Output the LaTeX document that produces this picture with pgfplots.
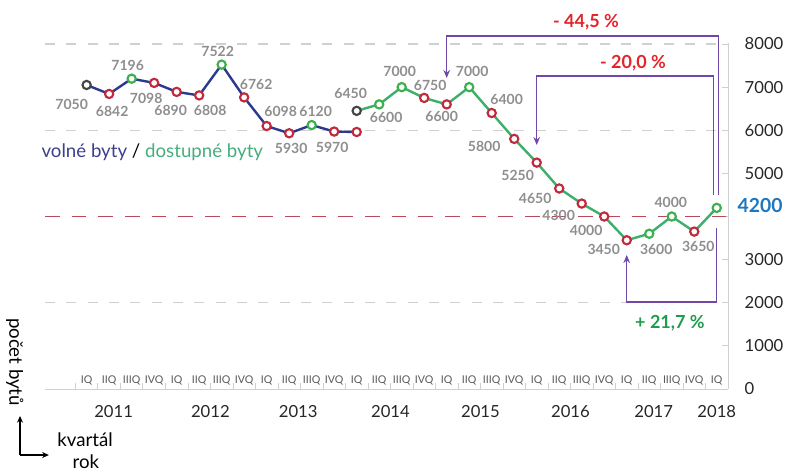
\documentclass[border=0pt]{standalone}
\usepackage{fontspec}
\setmainfont{Lato}
\usepackage{pgfplots}
\usepackage{pgfplotstable}
\pgfplotsset{compat=1.18}
\usetikzlibrary{arrows.meta}
\definecolor{navy}{HTML}{2B3A8E}
\definecolor{lgreen}{HTML}{3DAE6B}
\definecolor{mred}{HTML}{C12A3C}
\definecolor{mgreen}{HTML}{3DB04E}
\definecolor{mblack}{HTML}{454545}
\definecolor{lblgray}{HTML}{8E8E8E}
\definecolor{purp}{HTML}{7048A8}
\definecolor{pred}{HTML}{E2252B}
\definecolor{pgreen}{HTML}{1E9C4C}
\definecolor{vblue}{HTML}{1D77C0}
\definecolor{gridg}{HTML}{D0D0D0}
\definecolor{dashred}{HTML}{B8485A}
\definecolor{txtblue}{HTML}{3B3F8F}
\definecolor{txtgreen}{HTML}{45AE7C}

\pgfplotstableread{
x y
0 7050
1 6842
2 7196
3 7098
4 6890
5 6808
6 7522
7 6762
8 6098
9 5930
10 6120
11 5970
12 5960
}\bluedata
\pgfplotstableread{
x y
12 6450
13 6600
14 7000
15 6750
16 6600
17 7000
18 6400
19 5800
20 5250
21 4650
22 4300
23 4000
24 3450
25 3600
26 4000
27 3650
28 4200
}\greendata

\newcommand{\lab}[4]{\node[font=\bfseries\fontsize{10.5}{12}\selectfont, text=lblgray, inner sep=0pt] at (axis cs:#1,#2) [xshift=#3pt, yshift=#4pt] {#2};}
\newcommand{\yr}[2]{\node[font=\fontsize{12.5}{14}\selectfont, text=black!85] at (axis cs:#1,0) [yshift=-17.25pt] {#2};}

\begin{document}
\begin{tikzpicture}
\path[use as bounding box] (-33.75pt,-61.5pt) rectangle (556.5pt,291.75pt);
\begin{axis}[
  at={(0,0)}, anchor=south west,
  scale only axis,
  width=512.25pt, height=258.75pt,
  xmin=-1.85, xmax=28.5, ymin=0, ymax=8000,
  clip=false,
  axis x line*=bottom, axis y line*=right,
  axis line style={draw=gridg, line width=0.6pt},
  every tick/.style={draw=gridg, line width=0.6pt},
  tick align=inside, major tick length=4.5pt,
  xtick={-0.5,0.5,...,28.5}, xticklabels={},
  extra x ticks={0,...,28},
  extra x tick labels={IQ,IIQ,IIIQ,IVQ,IQ,IIQ,IIIQ,IVQ,IQ,IIQ,IIIQ,IVQ,IQ,IIQ,IIIQ,IVQ,IQ,IIQ,IIIQ,IVQ,IQ,IIQ,IIIQ,IVQ,IQ,IIQ,IIIQ,IVQ,IQ},
  extra x tick style={major tick length=0pt, tick label style={anchor=south, yshift=2.5pt, inner sep=0pt, font=\fontsize{8}{9}\selectfont, text=black!65}},
  ytick={0,1000,2000,3000,4000,5000,6000,7000,8000},
  yticklabels={0,1000,2000,3000,,5000,6000,7000,8000},
  yticklabel pos=right,
  yticklabel style={anchor=west, xshift=9pt, font=\fontsize{12.5}{14}\selectfont, text=black!85},
]
% grid lines
\draw[gridg, line width=0.8pt, dash pattern=on 7.5pt off 8.5pt] (axis cs:-1.85,8000) -- (axis cs:28.5,8000);
\draw[gridg, line width=0.8pt, dash pattern=on 7.5pt off 8.5pt] (axis cs:-1.85,6000) -- (axis cs:28.5,6000);
\draw[gridg, line width=0.8pt, dash pattern=on 7.5pt off 8.5pt] (axis cs:-1.85,2000) -- (axis cs:28.5,2000);
\draw[dashred, line width=0.8pt, dash pattern=on 11pt off 9pt] (axis cs:-1.85,4000) -- (axis cs:28.5,4000);

% lines
\addplot[navy, line width=1.8pt, no markers] table[x=x,y=y] {\bluedata};
\addplot[lgreen, line width=1.8pt, no markers] table[x=x,y=y] {\greendata};

% markers
\addplot[only marks, mark=*, mark size=3.1pt, mark options={draw=mred, fill=white, line width=1.6pt}] coordinates {
(1,6842) (3,7098) (4,6890) (5,6808) (7,6762) (8,6098) (9,5930) (11,5970) (12,5960)
(15,6750) (16,6600) (18,6400) (19,5800) (20,5250) (21,4650) (22,4300) (23,4000) (24,3450) (27,3650)};
\addplot[only marks, mark=*, mark size=3.1pt, mark options={draw=mgreen, fill=white, line width=1.6pt}] coordinates {
(2,7196) (6,7522) (10,6120) (13,6600) (14,7000) (17,7000) (25,3600) (26,4000) (28,4200)};
\addplot[only marks, mark=*, mark size=3.1pt, mark options={draw=mblack, fill=white, line width=1.6pt}] coordinates {
(0,7050) (12,6450)};

% value labels
\lab{0}{7050}{-11.25}{-14.25}
\lab{1}{6842}{2.25}{-12.75}
\lab{2}{7196}{-3}{9.75}
\lab{3}{7098}{-6}{-12}
\lab{4}{6890}{-4.5}{-14.25}
\lab{5}{6808}{8.25}{-11.25}
\lab{6}{7522}{-3}{9.75}
\lab{7}{6762}{9}{9.75}
\lab{8}{6098}{10.5}{11.25}
\lab{9}{5930}{1.5}{-11.25}
\lab{10}{6120}{3}{10.5}
\lab{11}{5970}{-1.5}{-12}
\lab{12}{6450}{-4.5}{12.75}
\lab{13}{6600}{5.25}{-9.75}
\lab{14}{7000}{-1.5}{12}
\lab{15}{6750}{4.5}{9}
\lab{16}{6600}{-3.75}{-9}
\lab{17}{7000}{2.25}{12}
\lab{18}{6400}{11.25}{10.5}
\lab{19}{5800}{-22.5}{-6}
\lab{20}{5250}{-14.25}{-9.75}
\lab{21}{4650}{-18}{-7.5}
\lab{22}{4300}{-17.25}{-9}
\lab{23}{4000}{-13.5}{-10.5}
\lab{24}{3450}{-17.25}{-6.75}
\lab{25}{3600}{5.25}{-12}
\lab{26}{4000}{-0.75}{10.5}
\lab{27}{3650}{3}{-11.25}

% 4200 label
\node[anchor=west, inner sep=0pt, font=\bfseries\fontsize{14.5}{16}\selectfont, text=vblue] at (axis cs:28.5,4250) [xshift=7pt] {4200};

% brackets
\draw[purp, line width=0.9pt, -{Stealth[length=6pt,width=5pt]}] (axis cs:28.06,4499) -- (axis cs:28.06,8185) -- (axis cs:16,8185) -- (axis cs:16,7212);
\draw[purp, line width=0.9pt, -{Stealth[length=6pt,width=5pt]}] (axis cs:27.84,4499) -- (axis cs:27.84,7258) -- (axis cs:20,7258) -- (axis cs:20,5658);
\draw[purp, line width=0.9pt, -{Stealth[length=6pt,width=5pt]}] (axis cs:28,3733) -- (axis cs:28,2017) -- (axis cs:24,2017) -- (axis cs:24,3107);

\node[font=\bfseries\fontsize{13.5}{15}\selectfont, text=pred] at (axis cs:22.19,8511) {- 44,5 \%};
\node[font=\bfseries\fontsize{13.5}{15}\selectfont, text=pred] at (axis cs:24.28,7560) {- 20,0 \%};
\node[font=\bfseries\fontsize{13.5}{15}\selectfont, text=pgreen] at (axis cs:25.92,1531) {+ 21,7 \%};

% legend text
\node[font=\fontsize{14}{16}\selectfont] at (axis cs:2.92,5496) {\textcolor{txtblue}{volné byty} / \textcolor{txtgreen}{dostupné byty}};

% years
\yr{1.2}{2011}
\yr{5.5}{2012}
\yr{9.4}{2013}
\yr{13.5}{2014}
\yr{17.5}{2015}
\yr{21.5}{2016}
\yr{25.2}{2017}
\yr{28}{2018}

% axis legend corner
\node[rotate=-90, font=\fontsize{14}{16}\selectfont] at (axis cs:-3.19,626) {počet bytů};
\draw[black, line width=0.8pt, -{Stealth[length=5pt,width=4.5pt]}] (axis cs:-2.96,-1531) -- (axis cs:-2.96,-626);
\draw[black, line width=0.8pt, -{Stealth[length=5pt,width=4.5pt]}] (axis cs:-2.96,-1531) -- (axis cs:-1.68,-1531);
\node[font=\fontsize{14}{16}\selectfont] at (axis cs:-0.07,-1183) {kvartál};
\node[font=\fontsize{14}{16}\selectfont] at (axis cs:-0.03,-1693) {rok};
\end{axis}
\end{tikzpicture}
\end{document}
